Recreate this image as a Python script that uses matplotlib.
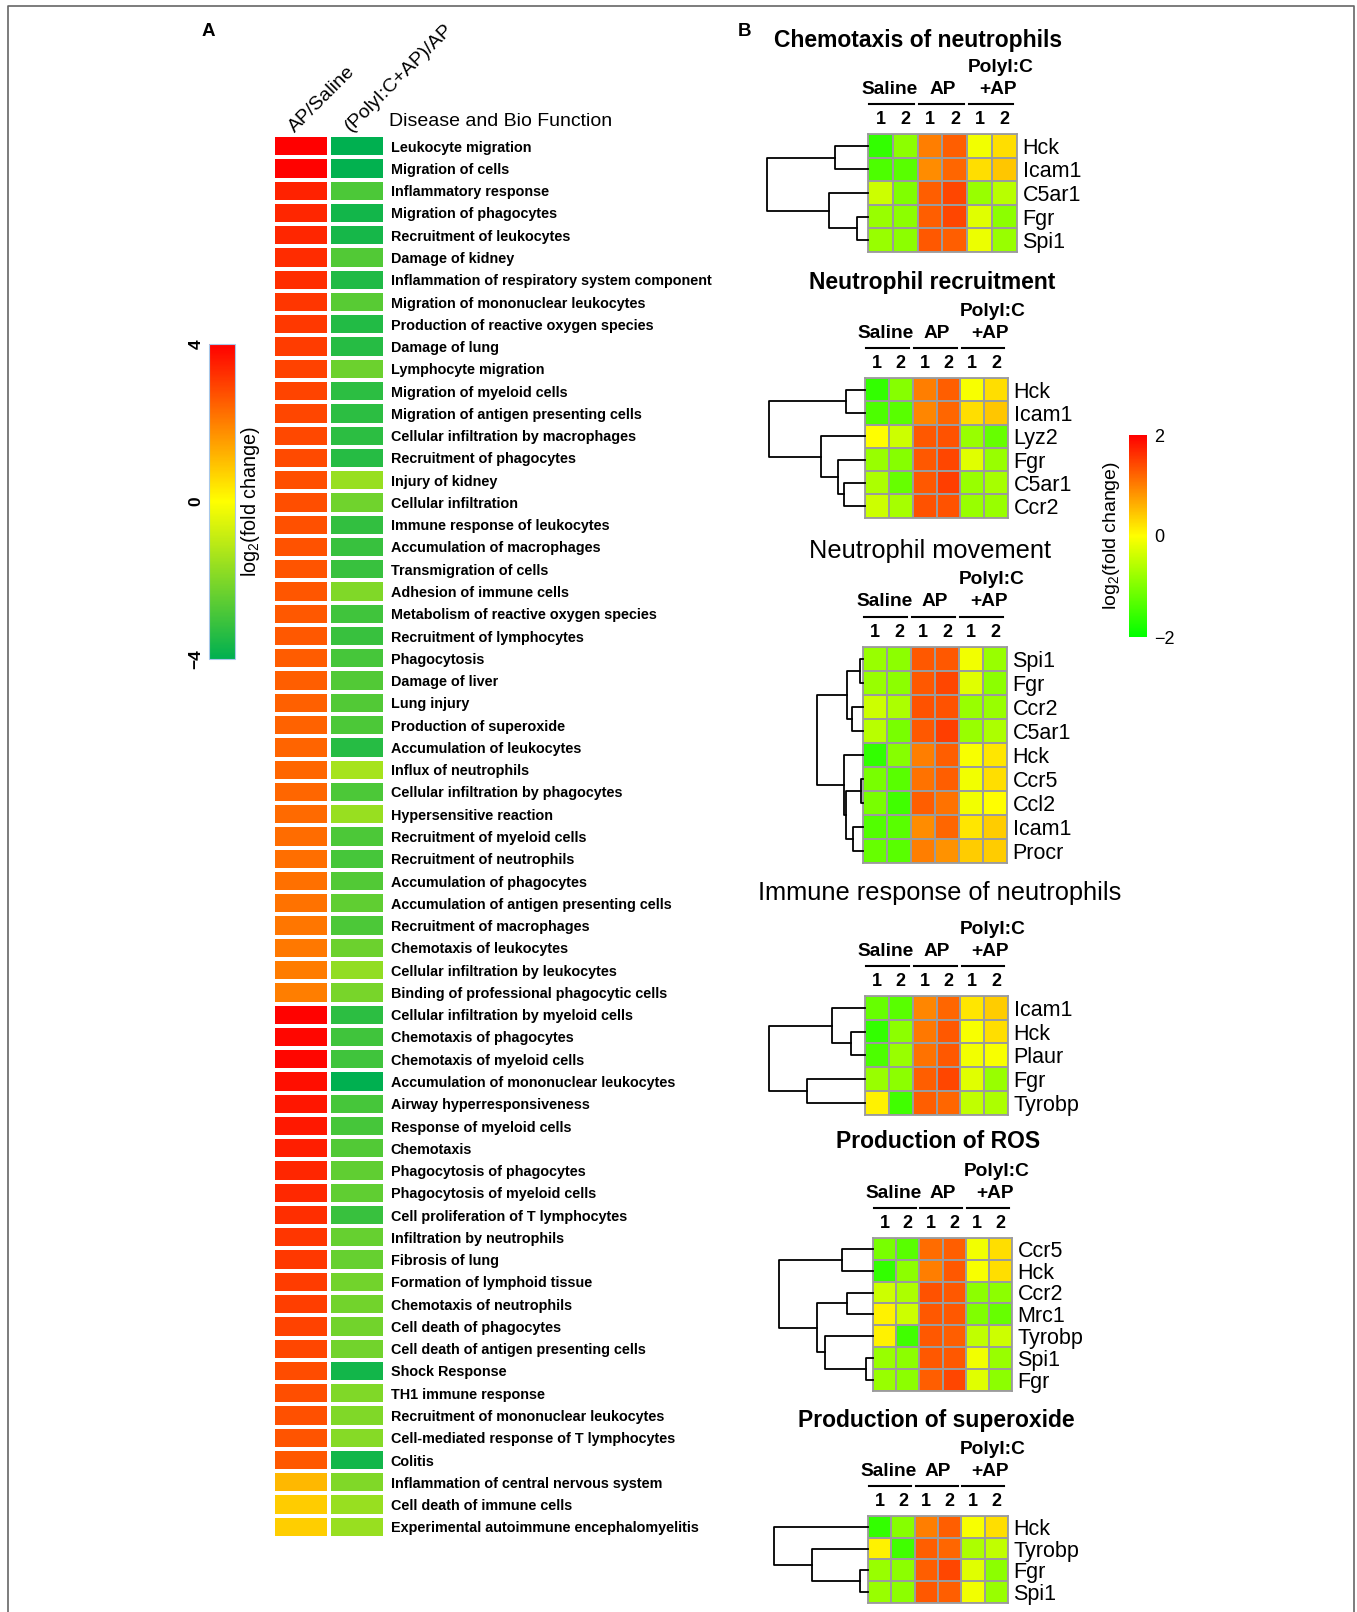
import numpy as np
import matplotlib
matplotlib.use("Agg")
import matplotlib.pyplot as plt
from matplotlib.colors import LinearSegmentedColormap, Normalize
from matplotlib.cm import ScalarMappable
from matplotlib.lines import Line2D
from matplotlib.transforms import blended_transform_factory, offset_copy, ScaledTranslation


# Config

plt.rcParams["font.family"] = "Liberation Sans"
plt.rcParams["mathtext.fontset"] = "custom"
plt.rcParams["mathtext.rm"] = "Liberation Sans"

W, H = 1357, 1612
fig = plt.figure(figsize=(W / 100, H / 100), dpi=100)


# Data - panel A

A_Columns = ["AP/Saline", "(PolyI:C+AP)/AP"]

A_Functions = [
    "Leukocyte migration", "Migration of cells", "Inflammatory response",
    "Migration of phagocytes", "Recruitment of leukocytes", "Damage of kidney",
    "Inflammation of respiratory system component", "Migration of mononuclear leukocytes",
    "Production of reactive oxygen species", "Damage of lung", "Lymphocyte migration",
    "Migration of myeloid cells", "Migration of antigen presenting cells",
    "Cellular infiltration by macrophages", "Recruitment of phagocytes", "Injury of kidney",
    "Cellular infiltration", "Immune response of leukocytes", "Accumulation of macrophages",
    "Transmigration of cells", "Adhesion of immune cells", "Metabolism of reactive oxygen species",
    "Recruitment of lymphocytes", "Phagocytosis", "Damage of liver", "Lung injury",
    "Production of superoxide", "Accumulation of leukocytes", "Influx of neutrophils",
    "Cellular infiltration by phagocytes", "Hypersensitive reaction", "Recruitment of myeloid cells",
    "Recruitment of neutrophils", "Accumulation of phagocytes",
    "Accumulation of antigen presenting cells", "Recruitment of macrophages",
    "Chemotaxis of leukocytes", "Cellular infiltration by leukocytes",
    "Binding of professional phagocytic cells", "Cellular infiltration by myeloid cells",
    "Chemotaxis of phagocytes", "Chemotaxis of myeloid cells",
    "Accumulation of mononuclear leukocytes", "Airway hyperresponsiveness",
    "Response of myeloid cells", "Chemotaxis", "Phagocytosis of phagocytes",
    "Phagocytosis of myeloid cells", "Cell proliferation of T lymphocytes",
    "Infiltration by neutrophils", "Fibrosis of lung", "Formation of lymphoid tissue",
    "Chemotaxis of neutrophils", "Cell death of phagocytes",
    "Cell death of antigen presenting cells", "Shock Response", "TH1 immune response",
    "Recruitment of mononuclear leukocytes", "Cell-mediated response of T lymphocytes",
    "Colitis", "Inflammation of central nervous system", "Cell death of immune cells",
    "Experimental autoimmune encephalomyelitis",
]

AP_vs_Saline = [
    4.0, 3.95, 3.45, 3.4, 3.38, 3.3, 3.25, 3.15, 3.1, 3.05,
    2.95, 2.92, 2.9, 2.85, 2.82, 2.78, 2.75, 2.72, 2.7, 2.68,
    2.65, 2.62, 2.6, 2.55, 2.5, 2.48, 2.45, 2.42, 2.4, 2.38,
    2.33, 2.3, 2.27, 2.24, 2.2, 2.15, 2.1, 2.05, 2.0,
    3.95, 3.9, 3.88, 3.75, 3.65, 3.6, 3.5, 3.4, 3.35, 3.25,
    3.15, 3.1, 3.05, 3.0, 2.95, 2.9, 2.8, 2.75, 2.72, 2.68, 2.6,
    1.1, 0.8, 0.78,
]

PolyIC_vs_AP = [
    -4.0, -3.95, -2.8, -3.7, -3.65, -2.7, -3.5, -2.6, -3.45, -3.4,
    -2.3, -3.3, -3.3, -3.3, -3.4, -1.6, -2.25, -3.2, -3.1, -3.1,
    -2.0, -3.0, -3.1, -2.9, -2.7, -2.7, -2.8, -3.4, -1.4, -2.8,
    -1.6, -2.8, -2.9, -2.7, -2.5, -2.8, -2.3, -1.7, -2.1, -3.3,
    -3.0, -3.0, -4.0, -2.9, -2.9, -2.7, -2.5, -2.5, -3.1, -2.4,
    -2.4, -2.2, -2.2, -2.2, -2.2, -3.7, -2.0, -2.0, -1.9, -3.7,
    -2.0, -1.6, -1.6,
]


# Data - panel B (columns: Saline 1, Saline 2, AP 1, AP 2, PolyI:C+AP 1, PolyI:C+AP 2)

B_Samples = ["1", "2", "1", "2", "1", "2"]
B_Groups = ["Saline", "AP", "+AP"]

Chemo_Genes = ["Hck", "Icam1", "C5ar1", "Fgr", "Spi1"]
Chemo_Values = [
    [-1.6, -0.9, 1.0, 1.25, -0.1, 0.25],
    [-1.4, -1.3, 0.9, 1.2, 0.25, 0.45],
    [-0.4, -1.0, 1.25, 1.45, -0.8, -0.55],
    [-0.8, -0.9, 1.25, 1.45, -0.25, -0.9],
    [-0.8, -0.9, 1.3, 1.25, -0.15, -0.8],
]
Chemo_Links = [(3, 4, 11), (0, 1, 33), (2, 5, 39), (6, 7, 101)]

Recruit_Genes = ["Hck", "Icam1", "Lyz2", "Fgr", "C5ar1", "Ccr2"]
Recruit_Values = [
    [-1.6, -0.95, 1.0, 1.25, -0.05, 0.25],
    [-1.4, -1.3, 0.95, 1.2, 0.25, 0.45],
    [0.0, -0.4, 1.3, 1.35, -0.8, -1.2],
    [-0.8, -0.95, 1.3, 1.45, -0.25, -0.8],
    [-0.65, -1.2, 1.3, 1.5, -0.8, -0.7],
    [-0.4, -0.7, 1.35, 1.35, -0.8, -0.8],
]
Recruit_Links = [(0, 1, 19), (4, 5, 21), (3, 7, 27), (2, 8, 44), (6, 9, 96)]

Move_Genes = ["Spi1", "Fgr", "Ccr2", "C5ar1", "Hck", "Ccr5", "Ccl2", "Icam1", "Procr"]
Move_Values = [
    [-0.8, -0.9, 1.3, 1.3, -0.1, -0.8],
    [-0.8, -0.9, 1.3, 1.45, -0.25, -0.9],
    [-0.4, -0.65, 1.35, 1.35, -0.8, -0.8],
    [-0.55, -1.05, 1.3, 1.5, -0.8, -0.65],
    [-1.6, -0.95, 1.0, 1.25, -0.05, 0.2],
    [-1.05, -1.3, 1.1, 1.25, -0.1, 0.25],
    [-1.05, -1.5, 1.25, 1.1, -0.1, 0.0],
    [-1.35, -1.3, 0.9, 1.2, 0.2, 0.4],
    [-1.2, -1.3, 1.0, 0.85, 0.4, 0.4],
]
Move_Links = [(0, 1, 3), (5, 6, 2), (7, 8, 10), (2, 3, 11), (9, 12, 16),
              (10, 11, 17), (4, 14, 19), (13, 15, 46)]

Immune_Genes = ["Icam1", "Hck", "Plaur", "Fgr", "Tyrobp"]
Immune_Values = [
    [-1.2, -1.3, 0.95, 1.2, 0.2, 0.4],
    [-1.6, -0.9, 1.05, 1.3, -0.05, 0.25],
    [-1.4, -0.8, 1.1, 1.3, -0.1, -0.05],
    [-0.8, -0.9, 1.25, 1.45, -0.25, -0.8],
    [0.1, -1.5, 1.25, 1.2, -0.5, -0.65],
]
Immune_Links = [(1, 2, 14), (0, 5, 33), (3, 4, 58), (6, 7, 96)]

ROS_Genes = ["Ccr5", "Hck", "Ccr2", "Mrc1", "Tyrobp", "Spi1", "Fgr"]
ROS_Values = [
    [-1.05, -1.3, 1.15, 1.25, -0.1, 0.25],
    [-1.6, -0.9, 1.0, 1.3, -0.05, 0.25],
    [-0.4, -0.65, 1.35, 1.3, -0.9, -0.9],
    [0.1, -0.4, 1.3, 1.3, -1.0, -1.2],
    [0.1, -1.5, 1.3, 1.25, -0.5, -0.4],
    [-0.8, -0.9, 1.3, 1.3, -0.1, -0.8],
    [-0.8, -0.9, 1.25, 1.45, -0.25, -0.9],
]
ROS_Links = [(5, 6, 7), (2, 3, 26), (0, 1, 31), (4, 7, 48), (8, 10, 56), (9, 11, 94)]

Superox_Genes = ["Hck", "Tyrobp", "Fgr", "Spi1"]
Superox_Values = [
    [-1.6, -0.95, 1.0, 1.25, -0.05, 0.25],
    [0.1, -1.5, 1.25, 1.2, -0.65, -0.5],
    [-0.8, -0.9, 1.25, 1.45, -0.25, -0.9],
    [-0.8, -0.9, 1.3, 1.25, -0.1, -0.8],
]
Superox_Links = [(2, 3, 8), (1, 4, 56), (0, 5, 94)]


# Colormaps

Cmap_A = LinearSegmentedColormap.from_list("A", ["#00B050", "#FFFF00", "#FF0000"])
Cmap_B = LinearSegmentedColormap.from_list("B", ["#00FF00", "#FFFF00", "#FF0000"])


# Helpers

def px_axes(left, top, width, height):
    return fig.add_axes([left / W, 1 - (top + height) / H, width / W, height / H])


def px_text(x, y, s, **kw):
    fig.text(x / W, 1 - y / H, s, **kw)


def draw_dendro(ax, links, n, width):
    pos = {i: (0.0, i + 0.5) for i in range(n)}
    for k, (a, b, h) in enumerate(links):
        ha, ya = pos[a]
        hb, yb = pos[b]
        ax.plot([ha, h, h, hb], [ya, ya, yb, yb], color="black", lw=1.3, clip_on=False)
        pos[n + k] = (h, (ya + yb) / 2)
    ax.set_ylim(n, 0)
    ax.set_xlim(width, 0)
    ax.axis("off")


def block(title, bold_title, title_xy, genes, values, links, left, top, width, row_h):
    n = len(genes)
    ax = px_axes(left, top, width, row_h * n)
    ax.pcolormesh(np.array(values), cmap=Cmap_B, vmin=-2, vmax=2,
                  edgecolors="#9b9b9b", linewidth=1.3)
    ax.set_xlim(0, 6)
    ax.set_ylim(n, 0)
    for s in ax.spines.values():
        s.set_color("#9b9b9b")
        s.set_linewidth(1.3)
    ax.yaxis.tick_right()
    ax.set_yticks(np.arange(n) + 0.5, genes, fontsize=15.5)
    ax.xaxis.tick_top()
    ax.set_xticks(np.arange(6) + 0.5, B_Samples, fontsize=13, fontweight="bold")
    ax.tick_params(length=0, pad=4)
    ax.tick_params(axis="y", pad=4)

    trans = blended_transform_factory(ax.transData, ax.transAxes)
    for g, name in enumerate(B_Groups):
        cx = 2 * g + 1 + (0.25 if g == 2 else 0) + (-0.12 if g == 0 else 0)
        ax.text(cx, 1, name, fontsize=13.8, fontweight="bold",
                ha="center", va="center", transform=offset_copy(trans, fig=fig, y=45, units="dots"))
        ax.plot([2 * g + 0.05, 2 * g + 1.85], [1, 1], color="black", lw=1.5, clip_on=False,
                transform=offset_copy(trans, fig=fig, y=30, units="dots"))
    ax.text(5.35, 1, "PolyI:C", fontsize=13.8, fontweight="bold", ha="center", va="center",
            transform=offset_copy(trans, fig=fig, y=67, units="dots"))

    dax = px_axes(left - 110, top, 110, row_h * n)
    draw_dendro(dax, links, n, 110)

    if bold_title:
        px_text(title_xy[0], title_xy[1], title, fontsize=16.5, fontweight="bold",
                ha="center", va="center")
    else:
        px_text(title_xy[0], title_xy[1], title, fontsize=18.3, ha="center", va="center")


# Frame

fig.add_artist(Line2D([8 / W, 8 / W, 1354 / W, 1354 / W], [0, 1 - 6 / H, 1 - 6 / H, 0],
                      transform=fig.transFigure, color="#666666", lw=1.2))


# Panel A

px_text(208, 32, "A", fontsize=13.5, fontweight="bold", ha="center", va="center")

n_A = len(A_Functions)
axA = px_axes(273, 135, 112, 1403)
axA.pcolormesh(np.column_stack([AP_vs_Saline, PolyIC_vs_AP]), cmap=Cmap_A, vmin=-4, vmax=4,
               edgecolors="white", linewidth=1.6)
axA.set_xlim(0, 2)
axA.set_ylim(n_A, 0)
for s in axA.spines.values():
    s.set_visible(False)
axA.yaxis.tick_right()
axA.set_yticks(np.arange(n_A) + 0.5, A_Functions, fontsize=10.4, fontweight="bold")
axA.xaxis.tick_top()
axA.set_xticks([0.5, 1.5], A_Columns, fontsize=14, rotation=45, ha="left", va="bottom",
               rotation_mode="anchor")
axA.tick_params(length=0, pad=4)
for lab in axA.get_xticklabels():
    lab.set_transform(lab.get_transform() + ScaledTranslation(-0.03, -0.06, fig.dpi_scale_trans))

px_text(389, 122, "Disease and Bio Function", fontsize=14, ha="left", va="center")

caxA = px_axes(209, 344, 26, 315)
cbA = fig.colorbar(ScalarMappable(norm=Normalize(-4, 4), cmap=Cmap_A), cax=caxA)
cbA.set_ticks([-4, 0, 4])
cbA.ax.yaxis.set_ticks_position("left")
cbA.ax.tick_params(length=0, pad=4, labelsize=12.5, labelrotation=90)
for lab in cbA.ax.get_yticklabels():
    lab.set_va("center")
    lab.set_fontweight("bold")
cbA.outline.set_edgecolor("#a9c9ea")
cbA.outline.set_linewidth(0.8)
cbA.ax.yaxis.set_label_position("right")
cbA.set_label(r"log$_\mathregular{2}$(fold change)", fontsize=14.2, labelpad=3)


# Panel B

px_text(745, 32, "B", fontsize=13.5, fontweight="bold", ha="center", va="center")

block("Chemotaxis of neutrophils", True, (918, 40), Chemo_Genes, Chemo_Values, Chemo_Links,
      868, 134, 149, 23.6)
block("Neutrophil recruitment", True, (932, 282), Recruit_Genes, Recruit_Values, Recruit_Links,
      865, 378, 143, 23.3)
block("Neutrophil movement", False, (930, 551), Move_Genes, Move_Values, Move_Links,
      863, 647, 144, 24.0)
block("Immune response of neutrophils", False, (940, 893), Immune_Genes, Immune_Values, Immune_Links,
      865, 996, 143, 23.7)
block("Production of ROS", True, (938, 1141), ROS_Genes, ROS_Values, ROS_Links,
      873, 1238, 139, 21.8)
block("Production of superoxide", True, (936, 1420), Superox_Genes, Superox_Values, Superox_Links,
      868, 1516, 140, 21.7)

caxB = px_axes(1129, 435, 18, 202)
cbB = fig.colorbar(ScalarMappable(norm=Normalize(-2, 2), cmap=Cmap_B), cax=caxB)
cbB.set_ticks([-2, 0, 2], labels=["\u22122", "0", "2"])
cbB.ax.tick_params(length=0, pad=5, labelsize=13)
cbB.outline.set_visible(False)
cbB.ax.yaxis.set_label_position("left")
cbB.set_label(r"log$_\mathregular{2}$(fold change)", fontsize=14, labelpad=5)

plt.savefig("out.png", dpi=100)
